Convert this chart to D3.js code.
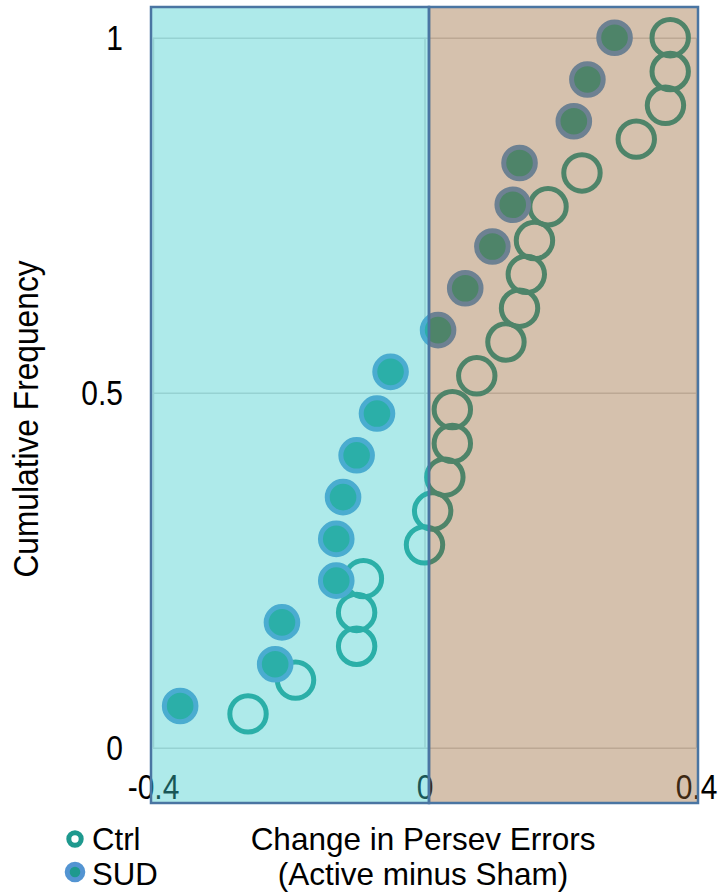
<!DOCTYPE html>
<html>
<head>
<meta charset="utf-8">
<script src="https://cdn.jsdelivr.net/npm/d3@7"></script>
<style>
  html, body { margin: 0; padding: 0; background: #ffffff; }
  svg { display: block; }
  text { font-family: "Liberation Sans", Arial, sans-serif; fill: #000; }
</style>
</head>
<body>
<svg id="chart" width="722" height="895"></svg>
<script>
// Change in perseverative errors (active minus sham), sorted, per group
const ctrlChange = [-0.26, -0.19, -0.10, -0.10, -0.09, 0.00, 0.012, 0.03, 0.041, 0.041,
                    0.077, 0.12, 0.14, 0.15, 0.162, 0.182, 0.232, 0.312, 0.355, 0.362, 0.362];
const ctrlFreq = [0.0476, 0.0952, 0.1429, 0.1905, 0.2381, 0.2857, 0.3333, 0.3810, 0.4286, 0.4762,
                  0.5238, 0.5714, 0.6190, 0.6667, 0.7143, 0.7619, 0.8095, 0.8571, 0.9048, 0.9524, 1.0];

const sudChange = [-0.36, -0.22, -0.21, -0.13, -0.13, -0.12, -0.10, -0.07, -0.05, 0.02,
                   0.06, 0.10, 0.13, 0.14, 0.22, 0.24, 0.28];
const sudFreq = [0.0588, 0.1176, 0.1765, 0.2353, 0.2941, 0.3529, 0.4118, 0.4706, 0.5294, 0.5882,
                 0.6471, 0.7059, 0.7647, 0.8235, 0.8824, 0.9412, 1.0];

const xTicks = [-0.4, 0, 0.4];
const yTicks = [0, 0.5, 1];
const xTitle = ["Change in Persev Errors", "(Active minus Sham)"];
const yTitle = "Cumulative Frequency";
const legendLabels = ["Ctrl", "SUD"];

const teal = "#1e998e";
const blue = "#5394d2";
const tall = 1.14;   // tick and axis glyphs are drawn slightly taller than wide

const svg = d3.select("#chart");
const x = d3.scaleLinear().domain([-0.4, 0.4]).range([153, 696]);
const y = d3.scaleLinear().domain([0, 1]).range([747.7, 37.7]);

// gridlines
svg.append("g")
  .attr("transform", `translate(${x(-0.4)},0)`)
  .call(d3.axisLeft(y).tickValues(yTicks).tickSize(-(x(0.4) - x(-0.4))).tickFormat(""))
  .call(g => g.select(".domain").remove())
  .call(g => g.selectAll("line").attr("stroke", "#d6d6d6").attr("stroke-width", 1.5));
svg.append("g")
  .attr("transform", `translate(0,${y(0)})`)
  .call(d3.axisBottom(x).tickValues(xTicks).tickSize(-(y(0) - y(1))).tickFormat(""))
  .call(g => g.select(".domain").remove())
  .call(g => g.selectAll("line").attr("stroke", "#d6d6d6").attr("stroke-width", 1.5));

// tick labels
function styleTicks(g, dx, dy) {
  g.select(".domain").remove();
  g.selectAll("text")
    .attr("x", null).attr("y", null).attr("dy", null)
    .attr("transform", `translate(${dx},${dy}) scale(1,${tall})`)
    .attr("font-size", 30)
    .attr("font-family", "Liberation Sans, Arial, sans-serif")
    .attr("fill", "#000");
}
svg.append("g")
  .attr("transform", `translate(${x(-0.4)},0)`)
  .call(d3.axisLeft(y).tickValues(yTicks).tickSize(0).tickFormat(d => String(d)))
  .call(g => styleTicks(g, -30, 12));
svg.append("g")
  .attr("transform", `translate(0,${y(0)})`)
  .call(d3.axisBottom(x).tickValues(xTicks).tickSize(0).tickFormat(d => String(d)))
  .call(g => styleTicks(g, 0, 51));

// control group: hollow rings
svg.append("g").selectAll("circle")
  .data(ctrlChange.map((v, i) => [v, ctrlFreq[i]]))
  .join("circle")
  .attr("cx", d => x(d[0]))
  .attr("cy", d => y(d[1]))
  .attr("r", 18.2)
  .attr("fill", "none")
  .attr("stroke", teal)
  .attr("stroke-width", 5);

// SUD group: filled discs with blue outline
svg.append("g").selectAll("circle")
  .data(sudChange.map((v, i) => [v, sudFreq[i]]))
  .join("circle")
  .attr("cx", d => x(d[0]))
  .attr("cy", d => y(d[1]))
  .attr("r", 15.8)
  .attr("fill", teal)
  .attr("stroke", blue)
  .attr("stroke-width", 5);

// translucent shading for the decrease (left) and increase (right) halves
const shadeTop = 7, shadeBottom = 803;
const shades = [
  { x0: x(-0.4) - 2, x1: x(0) + 4.5, fill: "rgb(62,205,205)", opacity: 0.42 },
  { x0: x(0) + 4.5, x1: x(0.4) + 2, fill: "rgb(150,100,50)", opacity: 0.40 }
];
svg.append("g").selectAll("rect")
  .data(shades)
  .join("rect")
  .attr("x", d => d.x0)
  .attr("y", shadeTop)
  .attr("width", d => d.x1 - d.x0)
  .attr("height", shadeBottom - shadeTop)
  .attr("fill", d => d.fill)
  .attr("fill-opacity", d => d.opacity)
  .attr("stroke", "#4a75a2")
  .attr("stroke-width", 2.5);

// axis titles
svg.append("text")
  .attr("transform", `translate(38,419) rotate(-90) scale(1.04,${tall})`)
  .attr("text-anchor", "middle")
  .attr("font-size", 30.5)
  .text(yTitle);
svg.append("g").selectAll("text")
  .data(xTitle)
  .join("text")
  .attr("transform", (d, i) => `translate(423,${850 + i * 35}) scale(1.05,1.03)`)
  .attr("text-anchor", "middle")
  .attr("font-size", 30)
  .text(d => d);

// legend
const legend = svg.append("g");
legend.append("circle").attr("cx", 75).attr("cy", 839).attr("r", 6.2)
  .attr("fill", "#fff").attr("stroke", teal).attr("stroke-width", 5);
legend.append("circle").attr("cx", 75).attr("cy", 872).attr("r", 7.8)
  .attr("fill", teal).attr("stroke", blue).attr("stroke-width", 5);
legend.selectAll("text")
  .data(legendLabels)
  .join("text")
  .attr("transform", (d, i) => `translate(92,${850 + i * 35}) scale(1.04,1.03)`)
  .attr("font-size", 30)
  .text(d => d);
</script>
</body>
</html>
